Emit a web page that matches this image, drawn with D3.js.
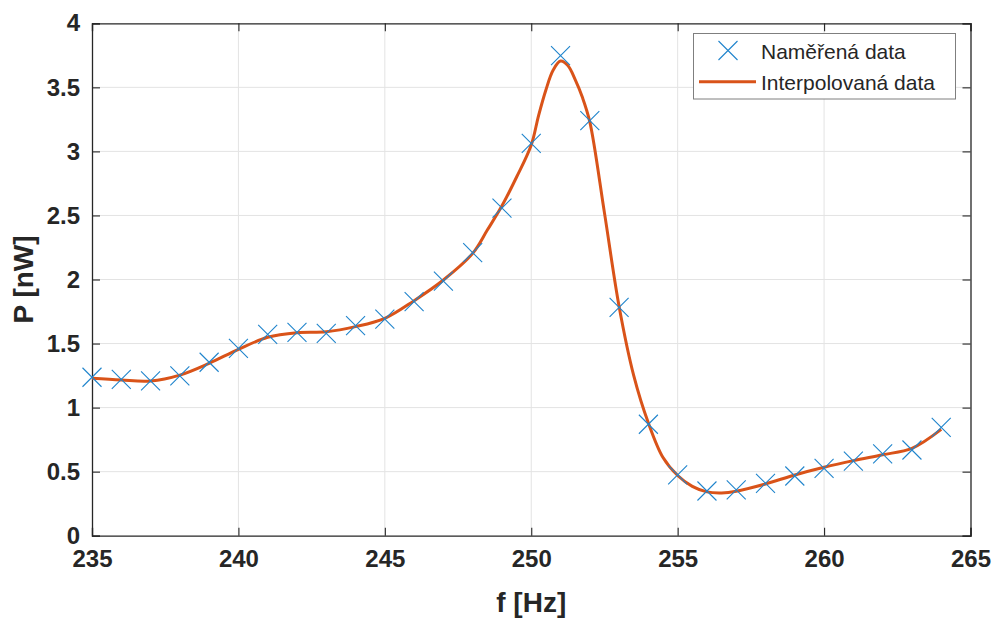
<!DOCTYPE html>
<html>
<head>
<meta charset="utf-8">
<script src="https://cdn.jsdelivr.net/npm/d3@7"></script>
<style>
  html, body { margin: 0; padding: 0; background: #fff; }
  svg { display: block; }
  text { font-family: "Liberation Sans", Arial, Helvetica, sans-serif; fill: #262626; }
</style>
</head>
<body>
<svg id="chart" width="997" height="619"></svg>
<script>
// Measured data (Naměřená data)
const measuredF = [235,236,237,238,239,240,241,242,243,244,245,246,247,248,249,250,251,252,253,254,255,256,257,258,259,260,261,262,263,264];
const measuredP = [1.237,1.221,1.208,1.247,1.354,1.463,1.572,1.588,1.580,1.640,1.690,1.827,1.988,2.209,2.558,3.063,3.748,3.240,1.783,0.870,0.474,0.349,0.357,0.409,0.466,0.526,0.583,0.638,0.669,0.846];

// Interpolated curve (Interpolovaná data)
const curveF = [235,236,237,238,239,240,241,242,243,244,245,246,247,248,248.5,249,249.5,250,250.25,250.5,250.75,251,251.25,251.5,251.75,252,252.5,253,253.5,254,254.5,255,255.5,256,256.5,257,258,259,260,261,262,263,264];
const curveP = [1.229,1.215,1.208,1.254,1.346,1.455,1.549,1.585,1.592,1.632,1.697,1.835,1.996,2.204,2.386,2.575,2.80,3.05,3.28,3.48,3.635,3.705,3.67,3.56,3.42,3.23,2.52,1.79,1.25,0.88,0.61,0.47,0.385,0.342,0.334,0.347,0.404,0.474,0.534,0.586,0.632,0.682,0.83];

const xTicks = [235,240,245,250,255,260,265];
const yTicks = [0,0.5,1,1.5,2,2.5,3,3.5,4];
const legendLabels = ["Naměřená data", "Interpolovaná data"];
const xLabel = "f [Hz]";
const yLabel = "P [nW]";

const svg = d3.select("#chart");
const L = 92, R = 970.5, T = 23.3, B = 535.7;
const x = d3.scaleLinear().domain([235, 265]).range([L, R]);
const y = d3.scaleLinear().domain([0, 4]).range([B, T]);

const axisColor = "#262626";
const gridColor = "#e3e3e3";
const blue = "#1f84cc";
const orange = "#D95319";

// grid
const grid = svg.append("g");
grid.selectAll("line.gx").data(xTicks.slice(1, -1)).enter().append("line")
  .attr("x1", d => x(d)).attr("x2", d => x(d)).attr("y1", T).attr("y2", B)
  .attr("stroke", gridColor).attr("stroke-width", 1);
grid.selectAll("line.gy").data(yTicks.slice(1, -1)).enter().append("line")
  .attr("y1", d => y(d)).attr("y2", d => y(d)).attr("x1", L).attr("x2", R)
  .attr("stroke", gridColor).attr("stroke-width", 1);

// axes (MATLAB style: ticks inward, box)
const tickLen = 8;
const axB = svg.append("g").attr("transform", `translate(0,${B})`)
  .call(d3.axisBottom(x).tickValues(xTicks).tickSize(-tickLen).tickPadding(14).tickFormat(d3.format("d")));
const axT = svg.append("g").attr("transform", `translate(0,${T})`)
  .call(d3.axisTop(x).tickValues(xTicks).tickSize(-tickLen).tickFormat(""));
const axL = svg.append("g").attr("transform", `translate(${L},0)`)
  .call(d3.axisLeft(y).tickValues(yTicks).tickSize(-tickLen).tickPadding(12).tickFormat(d => d3.format("")(d)));
const axR = svg.append("g").attr("transform", `translate(${R},0)`)
  .call(d3.axisRight(y).tickValues(yTicks).tickSize(-tickLen).tickFormat(""));
[axB, axT, axL, axR].forEach(a => {
  a.select(".domain").attr("stroke", axisColor).attr("stroke-width", 1.3);
  a.selectAll(".tick line").attr("stroke", axisColor).attr("stroke-width", 1.1);
  a.selectAll(".tick text").attr("fill", axisColor)
    .style("font-size", "24px").style("font-weight", "bold")
    .style("font-family", "'Liberation Sans', Arial, sans-serif");
});

// axis labels
svg.append("text").attr("x", (L + R) / 2).attr("y", 612)
  .attr("text-anchor", "middle").style("font-size", "28px").style("font-weight", "bold").text(xLabel);
svg.append("text").attr("transform", `translate(33,${(T + B) / 2}) rotate(-90)`)
  .attr("text-anchor", "middle").style("font-size", "28px").style("font-weight", "bold").text(yLabel);

// interpolated curve
const line = d3.line().x((d, i) => x(curveF[i])).y(d => y(d)).curve(d3.curveCatmullRom.alpha(0.5));
svg.append("path").datum(curveP).attr("d", line)
  .attr("fill", "none").attr("stroke", orange).attr("stroke-width", 3).attr("stroke-linejoin", "round");

// measured markers (x)
const ms = 9.5;
const markers = svg.append("g");
measuredP.forEach((p, i) => {
  const cx = x(measuredF[i]), cy = y(p);
  markers.append("path")
    .attr("d", `M${cx - ms},${cy - ms}L${cx + ms},${cy + ms}M${cx - ms},${cy + ms}L${cx + ms},${cy - ms}`)
    .attr("stroke", blue).attr("stroke-width", 1.1).attr("fill", "none");
});

// legend
const lg = svg.append("g");
lg.append("rect").attr("x", 693.5).attr("y", 33.5).attr("width", 262).attr("height", 65.5)
  .attr("fill", "#fff").attr("stroke", "#7f7f7f").attr("stroke-width", 1);
const mx = 728, my = 50.5, lms = 9.5;
lg.append("path").attr("d", `M${mx - lms},${my - lms}L${mx + lms},${my + lms}M${mx - lms},${my + lms}L${mx + lms},${my - lms}`)
  .attr("stroke", blue).attr("stroke-width", 1.1);
lg.append("line").attr("x1", 699).attr("x2", 756).attr("y1", 81.7).attr("y2", 81.7)
  .attr("stroke", orange).attr("stroke-width", 3);
lg.append("text").attr("x", 761).attr("y", 58.5).style("font-size", "21px").text(legendLabels[0]);
lg.append("text").attr("x", 761).attr("y", 89.5).style("font-size", "21px").text(legendLabels[1]);
</script>
</body>
</html>
